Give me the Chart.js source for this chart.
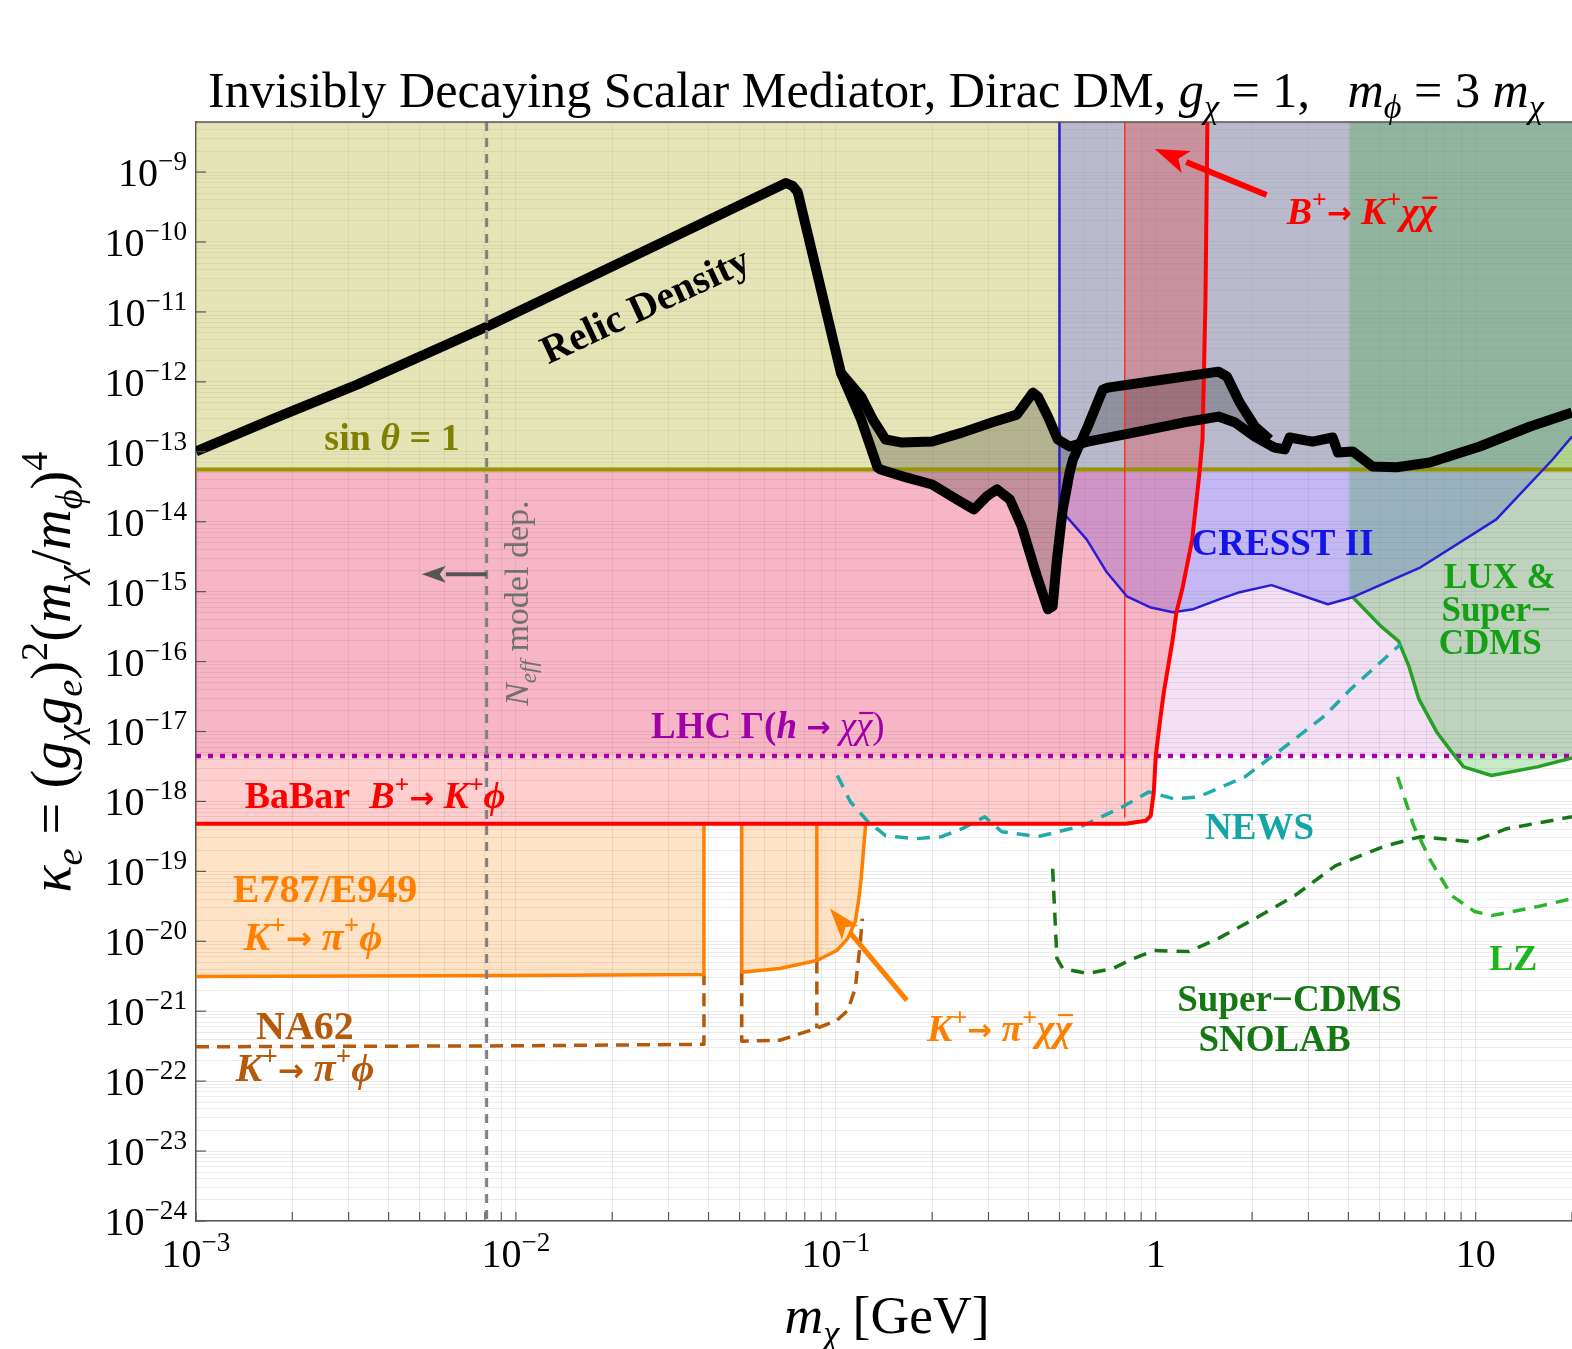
<!DOCTYPE html>
<html>
<head>
<meta charset="utf-8">
<script src="https://cdn.jsdelivr.net/npm/chart.js@4.4.0/dist/chart.umd.min.js"></script>
<style>
  html, body { margin: 0; padding: 0; background: #fff; }
  #wrap { width: 1572px; height: 1349px; }
</style>
</head>
<body>
<div id="wrap"><canvas id="chart" width="1572" height="1349"></canvas></div>
<script>
// axis range
const X_MIN = 1e-3, X_MAX = 20, Y_MIN = 1e-24, Y_MAX = 5.2e-9;

// horizontal / vertical limits
const SIN_LEVEL = 5.58e-14;     // sin theta = 1
const LHC_LEVEL = 4.48e-18;     // LHC invisible higgs width
const BABAR_LEVEL = 4.8e-19;    // BaBar B -> K phi plateau
const NEFF_MASS = 8.1e-3;
const CRESST_EDGE = 0.5;
const BKXX_EDGE = 0.8;
const LUX_EDGE = 4.04, LUX_JOIN = 8.6e-16;
const BABAR_CROSS_X = 1.372;

// tick labels
const xTickVals = [1e-3, 1e-2, 1e-1, 1, 10];
const xTickMain = ['10', '10', '10', '1', '10'];
const xTickSup = ['−3', '−2', '−1', '', ''];
const yTickExps = [-9, -10, -11, -12, -13, -14, -15, -16, -17, -18, -19, -20, -21, -22, -23, -24];

// relic density (main curve)
const relicX = [1e-3, 1.78e-3, 3.19e-3, 8.1e-3, 6.98e-2, 7.34e-2, 7.60e-2, 1.037e-1, 1.20e-1, 1.305e-1, 1.43e-1, 1.60e-1,
  2.0e-1, 2.48e-1, 3.07e-1, 3.68e-1, 4.13e-1, 4.28e-1, 4.60e-1, 4.94e-1, 5.38e-1, 6.13e-1, 8.53e-1, 1.22, 1.57, 1.77,
  2.04, 2.35, 2.53, 2.62, 3.09, 3.57, 3.71, 4.13, 4.76, 5.66, 7.18, 10.3, 14.8, 20];
const relicY = [1.01e-13, 3.08e-13, 9.12e-13, 6.14e-12, 6.97e-10, 6.31e-10, 5.18e-10, 1.35e-12, 6.15e-13, 2.89e-13, 1.50e-13, 1.36e-13,
  1.40e-13, 1.88e-13, 2.62e-13, 3.40e-13, 7.02e-13, 6.15e-13, 3.19e-13, 1.50e-13, 1.19e-13, 1.40e-13, 1.88e-13, 2.62e-13, 3.19e-13, 2.62e-13,
  1.65e-13, 1.15e-13, 1.08e-13, 1.60e-13, 1.40e-13, 1.60e-13, 9.77e-14, 1.01e-13, 6.17e-14, 6.0e-14, 7.03e-14, 1.19e-13, 2.30e-13, 3.64e-13];

// relic density (second branch)
const relicBX = [1.037e-1, 1.20e-1, 1.35e-1, 1.38e-1, 1.66e-1, 2.0e-1, 2.39e-1, 2.70e-1, 2.96e-1, 3.19e-1, 3.50e-1, 3.81e-1,
  4.25e-1, 4.60e-1, 4.76e-1, 4.91e-1, 5.12e-1, 5.38e-1, 5.51e-1, 6.13e-1, 6.83e-1, 7.08e-1, 1.06, 1.57, 1.67, 1.83, 2.04, 2.27];
const relicBY = [1.35e-12, 2.89e-13, 5.97e-14, 5.58e-14, 4.30e-14, 3.41e-14, 2.08e-14, 1.50e-14, 2.30e-14, 2.90e-14, 2.08e-14, 8.59e-15,
  1.66e-15, 5.61e-16, 6.19e-16, 2.90e-15, 1.50e-14, 5.06e-14, 7.76e-14, 2.30e-13, 7.74e-13, 8.26e-13, 1.08e-12, 1.40e-12, 1.19e-12, 5.05e-13, 2.30e-13, 1.50e-13];

// CRESST II
const cresstX = [0.5, 0.512, 0.608, 0.703, 0.812, 0.958, 1.13, 1.31, 1.585, 1.83, 2.30, 3.45, 4.13, 6.73, 11.6, 17.4, 20];
const cresstY = [1.5e-14, 1.36e-14, 5.60e-15, 1.89e-15, 8.59e-16, 6.00e-16, 5.08e-16, 5.61e-16, 7.80e-16, 9.82e-16, 1.24e-15, 6.61e-16,
  8.32e-16, 2.23e-15, 1.08e-14, 7.76e-14, 1.65e-13];

// LUX & SuperCDMS
const luxX = [4.13, 5.05, 5.74, 6.18, 6.64, 7.55, 8.41, 9.17, 11.2, 15.6, 20];
const luxY = [8.32e-16, 3.21e-16, 1.96e-16, 8.63e-17, 2.92e-17, 9.86e-18, 5.11e-18, 3.12e-18, 2.35e-18, 3.12e-18, 4.2e-18];

// BaBar B+ -> K+ phi
const babarX = [1e-3, 0.806, 0.931, 0.964, 0.986, 1.0, 1.03, 1.06, 1.13, 1.16, 1.21, 1.30, 1.37, 1.40, 1.43, 1.45];
const babarY = [4.8e-19, 4.8e-19, 5.29e-19, 6.2e-19, 1.37e-18, 4.48e-18, 1.37e-17, 3.67e-17, 2.09e-16, 5.08e-16, 1.08e-15, 5.60e-15,
  5.06e-14, 1.50e-13, 1.49e-11, 5.2e-9];

// E787/E949
const e787LX = [1e-3, 1e-2, 3.87e-2, 3.87e-2];
const e787LY = [3.14e-21, 3.25e-21, 3.36e-21, 4.8e-19];
const e787RX = [5.08e-2, 5.08e-2, 6.68e-2, 8.72e-2, 1.007e-1, 1.09e-1, 1.15e-1, 1.18e-1, 1.20e-1, 1.24e-1];
const e787RY = [4.8e-19, 3.6e-21, 4.08e-21, 5.32e-21, 7.38e-21, 1.10e-20, 1.91e-20, 4.07e-20, 7.87e-20, 4.8e-19];
const e787MX = [8.72e-2, 8.72e-2];
const e787MY = [4.8e-19, 5.32e-21];

// NA62
const na62LX = [1e-3, 1e-2, 3.87e-2, 3.87e-2];
const na62LY = [3.1e-22, 3.2e-22, 3.36e-22, 3.36e-21];
const na62RX = [5.08e-2, 5.08e-2, 6.68e-2, 8.72e-2, 1.007e-1, 1.09e-1, 1.15e-1, 1.19e-1, 1.21e-1];
const na62RY = [3.6e-21, 3.72e-22, 3.84e-22, 5.69e-22, 7.40e-22, 1.03e-21, 2.12e-21, 8.7e-21, 2.11e-20];
const na62MX = [8.72e-2, 8.72e-2];
const na62MY = [5.32e-21, 5.69e-22];

// NEWS
const newsX = [0.1011, 0.111, 0.126, 0.143, 0.178, 0.214, 0.248, 0.292, 0.330, 0.428, 0.591, 0.788, 0.951, 1.14, 1.36, 1.90, 2.53, 3.37, 4.07, 5.83];
const newsY = [2.35e-18, 9.89e-19, 5.13e-19, 3.24e-19, 2.93e-19, 3.13e-19, 4.07e-19, 6.03e-19, 3.69e-19, 3.13e-19, 4.49e-19, 8.38e-19,
  1.37e-18, 1.09e-18, 1.16e-18, 2.25e-18, 6.03e-18, 1.67e-17, 4.05e-17, 1.78e-16];

// SuperCDMS SNOLAB
const snolabX = [0.476, 0.491, 0.512, 0.613, 0.734, 0.853, 0.986, 1.27, 1.57, 2.04, 2.72, 3.65, 5.23, 6.73, 9.72, 12.5, 20];
const snolabY = [1.09e-19, 5.68e-21, 4.08e-21, 3.47e-21, 4.08e-21, 5.68e-21, 7.38e-21, 7.15e-21, 1.10e-20, 2.11e-20, 4.50e-20,
  1.21e-19, 2.32e-19, 3.13e-19, 2.65e-19, 4.07e-19, 6.03e-19];

// LZ
const lzX = [5.70, 6.40, 7.23, 8.41, 9.93, 11.2, 15.6, 20];
const lzY = [2.25e-18, 4.49e-19, 1.42e-19, 4.50e-20, 2.66e-20, 2.33e-20, 3.13e-20, 4.07e-20];

// arrows [x0, y0, x1, y1]
const arrowBKXX = [2.22, 4.70e-10, 0.993, 2.13e-9];
const arrowKPXX = [0.1667, 1.43e-21, 0.0958, 2.94e-20];
const arrowNeff = [8.1e-3, 1.77e-15, 5.08e-3, 1.77e-15];

const FONT = '"Liberation Serif", "Times New Roman", serif';
const ARROW_FONT = '"DejaVu Sans", sans-serif';

function pts(xs, ys) {
  return xs.map((x, i) => ({ x: x, y: ys[i] }));
}

function line(xs, ys, color, width, dash, order) {
  return {
    data: pts(xs, ys), borderColor: color, borderWidth: width, borderDash: dash || [],
    pointRadius: 0, fill: false, order: order, tension: 0,
    borderJoinStyle: 'round', borderCapStyle: 'butt'
  };
}

function area(xs, ys, color, order) {
  return {
    data: pts(xs, ys), backgroundColor: color, borderColor: 'rgba(0,0,0,0)', borderWidth: 0,
    pointRadius: 0, fill: 'shape', order: order, tension: 0
  };
}

// polygons built from the curves above
const babarLow = babarX.map((x, i) => i).filter(i => babarY[i] < SIN_LEVEL);
const babarHigh = babarX.map((x, i) => i).filter(i => babarY[i] > SIN_LEVEL);
const babarFillX = babarLow.map(i => babarX[i]).concat([BABAR_CROSS_X, X_MIN]);
const babarFillY = babarLow.map(i => babarY[i]).concat([SIN_LEVEL, SIN_LEVEL]);
const bkxxFillX = [BKXX_EDGE, BKXX_EDGE].concat(babarHigh.map(i => babarX[i]).reverse(), [BABAR_CROSS_X]);
const bkxxFillY = [SIN_LEVEL, Y_MAX].concat(babarHigh.map(i => babarY[i]).reverse(), [SIN_LEVEL]);

const bLo = relicBX[0], bHi = relicBX[relicBX.length - 1];
const relicIn = relicX.map((x, i) => i).filter(i => relicX[i] >= bLo && relicX[i] <= bHi).reverse();
const relicFillX = relicBX.concat(relicIn.map(i => relicX[i]));
const relicFillY = relicBY.concat(relicIn.map(i => relicY[i]));

const datasets = [
  area([X_MIN, X_MAX, X_MAX, X_MIN], [LHC_LEVEL, LHC_LEVEL, SIN_LEVEL, SIN_LEVEL], 'rgba(200,100,200,0.2)', 30),
  area([X_MIN, X_MAX, X_MAX, X_MIN], [SIN_LEVEL, SIN_LEVEL, Y_MAX, Y_MAX], 'rgba(190,190,80,0.42)', 29),
  area([CRESST_EDGE].concat(cresstX, [X_MAX]), [Y_MAX].concat(cresstY, [Y_MAX]), 'rgba(107,110,244,0.35)', 28),
  area(babarFillX, babarFillY, 'rgba(255,0,0,0.19)', 27),
  area(bkxxFillX, bkxxFillY, 'rgba(255,0,0,0.22)', 26),
  area([LUX_EDGE, LUX_EDGE].concat(luxX, [X_MAX]), [Y_MAX, LUX_JOIN].concat(luxY, [Y_MAX]), 'rgba(0,160,0,0.22)', 25),
  area(e787LX.concat([X_MIN]), e787LY.concat([BABAR_LEVEL]), 'rgba(255,128,0,0.22)', 24),
  area(e787RX, e787RY, 'rgba(255,128,0,0.22)', 24),
  area(relicFillX, relicFillY, 'rgba(0,0,0,0.21)', 23),

  line([X_MIN, X_MAX], [SIN_LEVEL, SIN_LEVEL], '#969600', 4, [], 12),
  line([X_MIN, X_MAX], [LHC_LEVEL, LHC_LEVEL], '#a800a8', 4.5, [5, 7], 11),
  line([CRESST_EDGE].concat(cresstX), [Y_MAX].concat(cresstY), '#2a1ed2', 2.5, [], 9),
  line(luxX, luxY, '#28a028', 3.5, [], 9),
  line([BKXX_EDGE, BKXX_EDGE], [Y_MAX, 6.0e-19], '#ff3030', 1.5, [], 9),
  line(babarX, babarY, '#ff0000', 4, [], 8),
  line(e787LX, e787LY, '#ff8000', 3.5, [], 8),
  line(e787RX, e787RY, '#ff8000', 3.5, [], 8),
  line(e787MX, e787MY, '#ff8000', 3.5, [], 8),
  line(na62LX, na62LY, '#b45a0a', 3.5, [13, 8], 8),
  line(na62RX, na62RY, '#b45a0a', 3.5, [13, 8], 8),
  line(na62MX, na62MY, '#b45a0a', 3.5, [13, 8], 8),
  line(newsX, newsY, '#20aaaa', 3.5, [13, 9], 8),
  line(snolabX, snolabY, '#157815', 3.5, [13, 9], 8),
  line(lzX, lzY, '#2db42d', 3.5, [13, 9], 8),
  line(relicX, relicY, '#000000', 10, [], 1),
  line(relicBX, relicBY, '#000000', 10, [], 1),
  line([NEFF_MASS, NEFF_MASS], [Y_MAX, Y_MIN], '#808080', 3, [9, 7], 0)
];

// grid values (1..9 per decade)
function gridVals(decades, max) {
  const out = [];
  decades.forEach(d => { for (let k = 1; k <= 9; k++) { if (d * k <= max * 1.0001) out.push(d * k); } });
  return out;
}
const xGrid = gridVals(xTickVals, X_MAX);
const yGrid = gridVals(yTickExps.map(e => Math.pow(10, e)), Y_MAX);

// rich text: parts are [text, flags]; flags: i italic, n normal weight, ^ sup, _ sub, - overbar, a arrow glyph
function fontOf(flags, size, bold) {
  if (flags.indexOf('a') >= 0) return 'bold ' + (size * 0.78).toFixed(1) + 'px ' + ARROW_FONT;
  const small = flags.indexOf('^') >= 0 || flags.indexOf('_') >= 0;
  const s = small ? size * 0.68 : size;
  const it = flags.indexOf('i') >= 0 ? 'italic ' : '';
  const b = bold && flags.indexOf('n') < 0 ? 'bold ' : '';
  return it + b + s.toFixed(1) + 'px ' + FONT;
}
function richWidth(ctx, parts, size, bold) {
  let w = 0;
  parts.forEach(p => { ctx.font = fontOf(p[1], size, bold); w += ctx.measureText(p[0]).width; });
  return w;
}
function drawRich(ctx, parts, x, y, o) {
  let size = o.size;
  if (o.fit) size = size * o.fit / richWidth(ctx, parts, size, o.bold);
  const w = richWidth(ctx, parts, size, o.bold);
  ctx.save();
  ctx.translate(x, y);
  if (o.rot) ctx.rotate(o.rot * Math.PI / 180);
  ctx.fillStyle = o.color;
  ctx.strokeStyle = o.color;
  ctx.textAlign = 'left';
  ctx.textBaseline = 'alphabetic';
  let cx = o.align === 'left' ? 0 : (o.align === 'right' ? -w : -w / 2);
  const base = o.middle ? size * 0.33 : 0;
  parts.forEach(p => {
    const f = p[1];
    ctx.font = fontOf(f, size, o.bold);
    const pw = ctx.measureText(p[0]).width;
    const dy = f.indexOf('^') >= 0 ? -size * 0.4 : (f.indexOf('_') >= 0 ? size * 0.22 : (f.indexOf('a') >= 0 ? -size * 0.02 : 0));
    ctx.fillText(p[0], cx, base + dy);
    if (f.indexOf('-') >= 0) {
      ctx.lineWidth = Math.max(1.5, size * 0.06);
      ctx.beginPath();
      ctx.moveTo(cx + pw * 0.2, base - size * 0.68);
      ctx.lineTo(cx + pw * 1.05, base - size * 0.68);
      ctx.stroke();
    }
    cx += pw;
  });
  ctx.restore();
}

function drawArrow(ctx, x0, y0, x1, y1, color, w, hl, hw) {
  const ang = Math.atan2(y1 - y0, x1 - x0);
  const bx = x1 - hl * Math.cos(ang), by = y1 - hl * Math.sin(ang);
  ctx.save();
  ctx.strokeStyle = color;
  ctx.fillStyle = color;
  ctx.lineWidth = w;
  ctx.beginPath(); ctx.moveTo(x0, y0); ctx.lineTo(bx, by); ctx.stroke();
  ctx.beginPath();
  ctx.moveTo(x1, y1);
  ctx.lineTo(bx + hw / 2 * Math.sin(ang), by - hw / 2 * Math.cos(ang));
  ctx.lineTo(x1 - hl * 0.75 * Math.cos(ang), y1 - hl * 0.75 * Math.sin(ang));
  ctx.lineTo(bx - hw / 2 * Math.sin(ang), by + hw / 2 * Math.cos(ang));
  ctx.closePath();
  ctx.fill();
  ctx.restore();
}

const kpp = [['K', 'i'], ['+', '^'], ['→', 'a'], [' ', ''], ['π', 'i'], ['+', '^'], ['ϕ', 'i']];
const notes = [
  { parts: [['Relic Density', '']], at: [2.53e-2, 1.26e-11], size: 40, color: '#000000', rot: -25 },
  { parts: [['sin ', ''], ['θ', 'i'], [' = 1', '']], at: [4.10e-3, 1.60e-13], size: 38, color: '#7f7f00' },
  { parts: [['N', 'in'], ['eff', 'in_'], [' model dep.', 'n']], at: [1.007e-2, 6.84e-16], size: 34, color: '#707070', rot: -90 },
  { parts: [['LHC Γ(', ''], ['h', 'i'], [' ', ''], ['→', 'a'], [' ', ''], ['χ', 'in'], ['χ', 'in-'], [')', 'n']], at: [6.13e-2, 1.2e-17], size: 37, color: '#a000a8' },
  { parts: [['BaBar  ', ''], ['B', 'i'], ['+', '^'], ['→', 'a'], [' ', ''], ['K', 'i'], ['+', '^'], ['ϕ', 'i']], at: [3.63e-3, 1.2e-18], size: 38, color: '#ff0000' },
  { parts: [['E787/E949', '']], at: [2.53e-3, 5.66e-20], size: 40, color: '#ff8000' },
  { parts: kpp, at: [2.32e-3, 1.17e-20], size: 40, color: '#ff8000' },
  { parts: [['NA62', '']], at: [2.19e-3, 6.28e-22], size: 40, color: '#b45a0a' },
  { parts: kpp, at: [2.19e-3, 1.53e-22], size: 40, color: '#b45a0a' },
  { parts: [['K', 'i'], ['+', '^'], ['→', 'a'], [' ', ''], ['π', 'i'], ['+', '^'], ['χ', 'i'], ['χ', 'i-']], at: [3.25e-1, 5.69e-22], size: 38, color: '#ff8000' },
  { parts: [['Super−CDMS', '']], at: [2.62, 1.52e-21], size: 37, color: '#157815' },
  { parts: [['SNOLAB', '']], at: [2.35, 4.10e-22], size: 37, color: '#157815' },
  { parts: [['NEWS', '']], at: [2.11, 4.35e-19], size: 37, color: '#14a5a5' },
  { parts: [['CRESST II', '']], at: [2.49, 5.07e-15], size: 37, color: '#1414e6' },
  { parts: [['LUX &', '']], at: [11.9, 1.66e-15], size: 35, color: '#14a014' },
  { parts: [['Super−', '']], at: [11.6, 5.61e-16], size: 35, color: '#14a014' },
  { parts: [['CDMS', '']], at: [11.1, 1.90e-16], size: 35, color: '#14a014' },
  { parts: [['LZ', '']], at: [13.1, 5.68e-21], size: 36, color: '#1eb41e' },
  { parts: [['B', 'i'], ['+', '^'], ['→', 'a'], [' ', ''], ['K', 'i'], ['+', '^'], ['χ', 'i'], ['χ', 'i-']], at: [4.40, 2.77e-10], size: 38, color: '#ff0000' }
];

const titleParts = [['Invisibly Decaying Scalar Mediator, Dirac DM, ', ''], ['g', 'i'], ['χ', 'i_'], [' = 1,   ', ''],
  ['m', 'i'], ['ϕ', 'i_'], [' = 3 ', ''], ['m', 'i'], ['χ', 'i_']];
const yTitleParts = [['κ', 'i'], ['e', 'i_'], [' = (', ''], ['g', 'i'], ['χ', 'i_'], ['g', 'i'], ['e', 'i_'], [')', ''], ['2', '^'],
  ['(', ''], ['m', 'i'], ['χ', 'i_'], ['/', ''], ['m', 'i'], ['ϕ', 'i_'], [')', ''], ['4', '^']];
const xTitleParts = [['m', 'i'], ['χ', 'i_'], [' [GeV]', '']];

const decor = {
  id: 'decor',
  beforeDraw(chart) {
    const c = chart.ctx;
    c.save();
    c.fillStyle = '#ffffff';
    c.fillRect(0, 0, chart.width, chart.height);
    c.restore();
  },
  afterDraw(chart) {
    const c = chart.ctx, a = chart.chartArea, sx = chart.scales.x, sy = chart.scales.y;
    const px = v => sx.getPixelForValue(v), py = v => sy.getPixelForValue(v);
    c.save();
    c.strokeStyle = '#555555';
    c.lineWidth = 1.5;
    c.beginPath(); c.moveTo(a.left, a.top); c.lineTo(a.right, a.top); c.stroke();
    c.lineWidth = 1.2;
    xGrid.forEach(v => {
      const p = px(v);
      c.beginPath(); c.moveTo(p, a.bottom); c.lineTo(p, a.bottom - 9); c.stroke();
    });
    yTickExps.forEach(e => {
      const p = py(Math.pow(10, e));
      c.beginPath(); c.moveTo(a.left, p); c.lineTo(a.left + 10, p); c.stroke();
    });
    c.restore();

    // tick labels
    yTickExps.forEach(e => {
      drawRich(c, [['10', ''], ['−' + Math.abs(e), '^']], a.left - 9, py(Math.pow(10, e)) + 14,
        { size: 40, color: '#000', align: 'right' });
    });
    xTickVals.forEach((v, i) => {
      const parts = xTickSup[i] ? [[xTickMain[i], ''], [xTickSup[i], '^']] : [[xTickMain[i], '']];
      drawRich(c, parts, px(v), a.bottom + 46, { size: 40, color: '#000', align: 'center' });
    });

    // titles
    drawRich(c, titleParts, 208, 107, { size: 46, fit: 1337, color: '#000', align: 'left' });
    drawRich(c, yTitleParts, 70, 672, { size: 46, fit: 441, color: '#000', align: 'center', rot: -90 });
    drawRich(c, xTitleParts, 887, 1333, { size: 48, fit: 205, color: '#000', align: 'center' });

    // arrows
    drawArrow(c, px(arrowBKXX[0]), py(arrowBKXX[1]), px(arrowBKXX[2]), py(arrowBKXX[3]), '#ff0000', 6, 34, 24);
    drawArrow(c, px(arrowKPXX[0]), py(arrowKPXX[1]), px(arrowKPXX[2]), py(arrowKPXX[3]), '#ff8000', 5, 32, 22);
    drawArrow(c, px(arrowNeff[0]), py(arrowNeff[1]), px(arrowNeff[2]), py(arrowNeff[3]), '#555555', 4, 24, 17);

    // labels
    notes.forEach(n => {
      drawRich(c, n.parts, px(n.at[0]), py(n.at[1]),
        { size: n.size, bold: n.rot !== -90, color: n.color, align: 'center', middle: true, rot: n.rot || 0 });
    });
  }
};

new Chart(document.getElementById('chart'), {
  type: 'line',
  data: { datasets: datasets },
  options: {
    responsive: false,
    devicePixelRatio: 1,
    animation: false,
    events: [],
    layout: { padding: { left: 196, top: 122, right: 0, bottom: 128 } },
    plugins: { legend: { display: false }, tooltip: { enabled: false }, title: { display: false } },
    scales: {
      x: {
        type: 'logarithmic', min: X_MIN, max: X_MAX, bounds: 'data',
        afterBuildTicks: s => { s.ticks = xGrid.map(v => ({ value: v })); },
        ticks: { display: false },
        grid: { color: 'rgba(0,0,0,0.08)', drawTicks: false, lineWidth: 1 },
        border: { display: true, color: '#555555', width: 1.5 }
      },
      y: {
        type: 'logarithmic', min: Y_MIN, max: Y_MAX, bounds: 'data',
        afterBuildTicks: s => { s.ticks = yGrid.map(v => ({ value: v })); },
        ticks: { display: false },
        grid: { color: 'rgba(0,0,0,0.08)', drawTicks: false, lineWidth: 1 },
        border: { display: true, color: '#555555', width: 1.5 }
      }
    }
  },
  plugins: [decor]
});
</script>
</body>
</html>
